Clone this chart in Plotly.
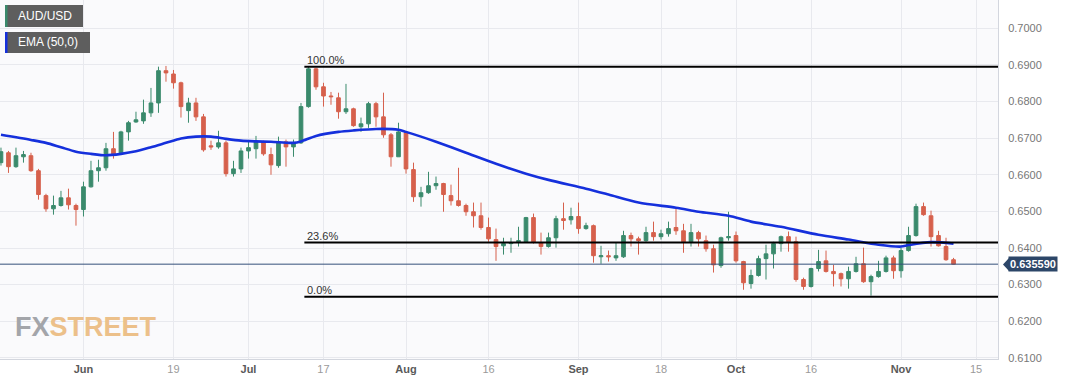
import pandas as pd
import plotly.graph_objects as go

# ---------------- data ----------------
start_date = "2023-05-17"
end_date = "2023-11-15"

opens = [
    .6633, .6660, .6622, .6649, .6652, .6611, .6543, .6507, .6516, .6537,
    .6516, .6505, .6567, .6611, .6619, .6671, .6660, .6717, .6744, .6747,
    .6769, .6796, .6884, .6875, .6851, .6775, .6796, .6758, .6679, .6676,
    .6687, .6603, .6616, .6665, .6671, .6690, .6655, .6625, .6690, .6676,
    .6687, .6786, .6889, .6840, .6815, .6810, .6772, .6780, .6731, .6739,
    .6794, .6758, .6709, .6649, .6714, .6614, .6540, .6551, .6570, .6576,
    .6543, .6529, .6516, .6499, .6488, .6456, .6423, .6406, .6412, .6417,
    .6417, .6483, .6414, .6404, .6428, .6480, .6477, .6486, .6453, .6461,
    .6376, .6379, .6373, .6376, .6434, .6425, .6420, .6442, .6431, .6439,
    .6456, .6447, .6417, .6442, .6420, .6398, .6352, .6428, .6434, .6363,
    .6303, .6325, .6371, .6384, .6412, .6431, .6417, .6314, .6295, .6344,
    .6365, .6336, .6330, .6316, .6336, .6357, .6308, .6322, .6336, .6373,
    .6338, .6393, .6434, .6513, .6488, .6434, .6404, .6368]

highs = [
    .6674, .6665, .6674, .6665, .6660, .6616, .6548, .6543, .6556, .6562,
    .6521, .6581, .6638, .6641, .6687, .6717, .6720, .6747, .6772, .6805,
    .6837, .6895, .6897, .6886, .6854, .6810, .6810, .6766, .6693, .6720,
    .6693, .6638, .6674, .6693, .6706, .6693, .6674, .6704, .6696, .6696,
    .6796, .6895, .6892, .6851, .6826, .6824, .6848, .6783, .6756, .6799,
    .6799, .6824, .6714, .6742, .6717, .6633, .6567, .6608, .6595, .6578,
    .6573, .6619, .6521, .6524, .6524, .6483, .6453, .6428, .6428, .6458,
    .6485, .6494, .6442, .6442, .6488, .6524, .6510, .6524, .6469, .6464,
    .6406, .6393, .6414, .6447, .6442, .6431, .6458, .6472, .6450, .6472,
    .6510, .6466, .6466, .6447, .6434, .6409, .6431, .6499, .6445, .6365,
    .6341, .6379, .6409, .6417, .6434, .6445, .6431, .6319, .6346, .6395,
    .6393, .6354, .6333, .6349, .6376, .6401, .6327, .6365, .6379, .6379,
    .6401, .6458, .6521, .6524, .6502, .6447, .6428, .6373]

lows = [
    .6625, .6605, .6619, .6633, .6608, .6532, .6499, .6491, .6513, .6505,
    .6461, .6486, .6565, .6581, .6611, .6644, .6657, .6693, .6742, .6739,
    .6758, .6769, .6854, .6835, .6756, .6742, .6747, .6663, .6668, .6671,
    .6595, .6595, .6605, .6644, .6644, .6652, .6600, .6619, .6622, .6649,
    .6684, .6783, .6832, .6786, .6791, .6753, .6766, .6731, .6717, .6728,
    .6731, .6701, .6622, .6649, .6603, .6526, .6513, .6548, .6559, .6499,
    .6516, .6513, .6488, .6456, .6450, .6417, .6365, .6382, .6387, .6404,
    .6414, .6412, .6382, .6401, .6401, .6450, .6464, .6439, .6450, .6360,
    .6357, .6363, .6365, .6373, .6404, .6382, .6417, .6420, .6423, .6431,
    .6436, .6387, .6404, .6404, .6390, .6333, .6346, .6420, .6360, .6286,
    .6289, .6322, .6314, .6344, .6390, .6390, .6308, .6286, .6292, .6336,
    .6333, .6295, .6295, .6289, .6333, .6305, .6270, .6319, .6333, .6316,
    .6319, .6390, .6431, .6488, .6404, .6404, .6365, .6355]

closes = [
    .6663, .6622, .6652, .6655, .6611, .6546, .6507, .6516, .6537, .6518,
    .6505, .6567, .6611, .6619, .6671, .6655, .6717, .6742, .6750, .6769,
    .6796, .6884, .6878, .6851, .6786, .6796, .6758, .6668, .6676, .6687,
    .6603, .6616, .6665, .6674, .6690, .6657, .6627, .6690, .6676, .6687,
    .6786, .6889, .6840, .6815, .6813, .6772, .6780, .6734, .6739, .6794,
    .6758, .6709, .6649, .6717, .6616, .6540, .6551, .6570, .6576, .6546,
    .6529, .6516, .6499, .6488, .6456, .6425, .6404, .6412, .6414, .6420,
    .6483, .6417, .6404, .6428, .6480, .6475, .6486, .6453, .6461, .6379,
    .6379, .6376, .6379, .6434, .6425, .6420, .6442, .6431, .6439, .6453,
    .6447, .6417, .6442, .6425, .6398, .6354, .6428, .6431, .6365, .6305,
    .6325, .6371, .6384, .6412, .6431, .6417, .6314, .6295, .6344, .6363,
    .6336, .6330, .6316, .6336, .6357, .6308, .6322, .6336, .6373, .6338,
    .6393, .6434, .6513, .6491, .6431, .6406, .6368, .63559]

# EMA(50) read at sampled candles (candle index, value)
ema_idx = [0, 4, 6, 8, 10, 12, 14, 16, 18, 20, 22, 24, 26, 28, 30, 32, 34, 36, 39, 40,
           42, 45, 47, 50, 53, 54, 56, 58, 62, 66, 70, 73, 78, 81, 85, 90, 93, 97, 100,
           104, 109, 113, 117, 120, 121, 124, 127]
ema_val = [.6709, .6695, .6687, .6675, .6663, .6657, .6653, .6657, .6664, .6675,
           .6687, .6699, .6704, .6704, .6698, .6693, .6691, .6690, .6687, .6691,
           .6706, .6717, .6721, .6725, .6723, .6717, .6704, .6690, .6660, .6630,
           .6603, .6586, .6562, .6546, .6524, .6510, .6499, .6488, .6472, .6458,
           .6436, .6423, .6409, .6404, .6408, .6416, .6412]

tick_dates = ["2023-06-01", "2023-06-19", "2023-07-03", "2023-07-17", "2023-08-01",
              "2023-08-16", "2023-09-01", "2023-09-18", "2023-10-02", "2023-10-16",
              "2023-11-01", "2023-11-15"]
tick_labels = ["Jun", "19", "Jul", "17", "Aug", "16", "Sep", "18", "Oct", "16", "Nov", "15"]

fib_start_idx = 41
fib_levels = [0.6895, 0.6415, 0.6267]
fib_labels = ["100.0%", "23.6%", "0.0%"]

last_price = 0.63559
y_ticks = [0.61, 0.62, 0.63, 0.64, 0.65, 0.66, 0.67, 0.68, 0.69, 0.70]

# ---------------- build ----------------
all_days = pd.bdate_range(start_date, end_date)
pos = {d.strftime("%Y-%m-%d"): i for i, d in enumerate(all_days)}
xs = list(range(len(closes)))
tickvals = [pos[d] for d in tick_dates]
ticktext = []
for lab in tick_labels:
    if lab.isalpha():
        ticktext.append("<span style='color:#5a5a5a'><b>%s</b></span>" % lab)
    else:
        ticktext.append("<span style='color:#9a9a9a'>%s</span>" % lab)

W, H = 1067, 386
PL, PR, PT, PB = 0, 69, 0, 27
pw = W - PL - PR
ph = H - PT - PB

def px(xp):
    return xp / pw

def py(yp):
    return 1 - yp / ph

FONT = "Liberation Sans, Arial, sans-serif"

fig = go.Figure()
fig.add_trace(go.Candlestick(
    x=xs, open=opens, high=highs, low=lows, close=closes,
    increasing=dict(line=dict(color="#3a8a6c", width=1), fillcolor="#3a8a6c"),
    decreasing=dict(line=dict(color="#d6604c", width=1), fillcolor="#d6604c"),
    whiskerwidth=0, showlegend=False, hoverinfo="skip"))
fig.add_trace(go.Scatter(
    x=ema_idx, y=ema_val, mode="lines",
    line=dict(color="#1530dc", width=2.6, shape="spline", smoothing=0.8),
    showlegend=False, hoverinfo="skip"))

shapes = []
annotations = []
# price line
shapes.append(dict(type="line", xref="paper", yref="y", x0=0, x1=1,
                   y0=last_price, y1=last_price, line=dict(color="#34507a", width=1)))
# fib lines
for lvl, lab in zip(fib_levels, fib_labels):
    shapes.append(dict(type="line", xref="x", yref="y", x0=fib_start_idx - 0.55, x1=200,
                       y0=lvl, y1=lvl, line=dict(color="#000000", width=2)))
    annotations.append(dict(x=fib_start_idx - 0.5, y=lvl, xref="x", yref="y", text=lab,
                            showarrow=False, xanchor="left", yanchor="bottom", yshift=-1,
                            font=dict(family=FONT, size=11, color="#333333")))
# price tag
annotations.append(dict(x=px(1008), y=last_price, xref="paper", yref="y",
                        text="<b>%.6f</b>" % last_price, showarrow=False,
                        xanchor="left", yanchor="middle", bgcolor="#2c4668",
                        borderpad=1, font=dict(family=FONT, size=11, color="white")))
shapes.append(dict(type="path", xref="paper", yref="paper",
                   path="M %f,%f L %f,%f L %f,%f Z" % (px(1003), py(264.5), px(1009), py(258), px(1009), py(271)),
                   fillcolor="#2c4668", line=dict(width=0)))
# legend boxes
for (x1p, y0p, y1p, stripe, txt) in [(83, 5, 27, "#3a8a6c", "AUD/USD"), (90, 32, 53, "#1530dc", "EMA (50,0)")]:
    shapes.append(dict(type="rect", xref="paper", yref="paper", x0=px(5), x1=px(x1p),
                       y0=py(y1p), y1=py(y0p), fillcolor="#5e5e5e", line=dict(width=0)))
    shapes.append(dict(type="rect", xref="paper", yref="paper", x0=px(5), x1=px(7.5),
                       y0=py(y1p), y1=py(y0p), fillcolor=stripe, line=dict(width=0)))
    annotations.append(dict(x=px(16), y=py((y0p + y1p) / 2), xref="paper", yref="paper",
                            text=txt, showarrow=False, xanchor="left", yanchor="middle",
                            font=dict(family=FONT, size=12, color="white")))
# watermark
annotations.append(dict(x=px(13), y=py(327), xref="paper", yref="paper",
                        text="<b><span style='color:#a3a5aa'>FX</span><span style='color:#ecc08a'>STREET</span></b>",
                        showarrow=False, xanchor="left", yanchor="middle",
                        font=dict(family="Liberation Sans Narrow, Liberation Sans", size=27)))

fig.update_layout(
    width=W, height=H, margin=dict(l=PL, r=PR, t=PT, b=PB),
    paper_bgcolor="white", plot_bgcolor="#fafafc",
    shapes=shapes, annotations=annotations, boxgap=0.3,
    font=dict(family=FONT, size=11, color="#777777"),
    xaxis=dict(range=[-0.13, 132.93], tickmode="array", tickvals=tickvals, ticktext=ticktext,
               showgrid=True, gridcolor="#e8e9ee", gridwidth=1, zeroline=False,
               showline=True, linecolor="#d3d6de", mirror=True, ticks="",
               rangeslider=dict(visible=False), fixedrange=True,
               tickfont=dict(size=11)),
    yaxis=dict(range=[0.6097, 0.7077], side="right", tickmode="array", tickvals=y_ticks,
               tickformat=".4f", showgrid=True, gridcolor="#e8e9ee", zeroline=False,
               showline=True, linecolor="#d3d6de", mirror=True, ticks="",
               fixedrange=True, ticklabelstandoff=7, tickfont=dict(size=11, color="#777777")),
    hovermode=False,
)

fig.write_html("out.html", config={"displayModeBar": False, "staticPlot": True},
               post_script="document.body.style.margin='0';document.body.style.padding='0';")
